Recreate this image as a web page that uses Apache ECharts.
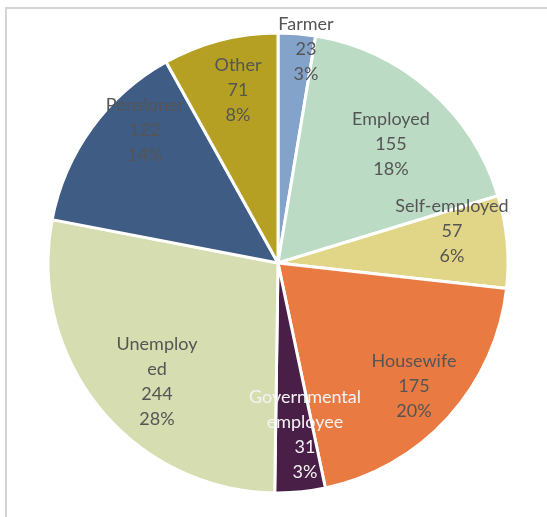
<!DOCTYPE html>
<html>
<head>
<meta charset="utf-8">
<script src="https://cdn.jsdelivr.net/npm/echarts@6/dist/echarts.min.js"></script>
<style>
html, body { margin: 0; padding: 0; background: #fff; }
#chart { width: 547px; height: 517px; }
</style>
</head>
<body>
<div id="chart"></div>
<script>
var categories = ['Farmer', 'Employed', 'Self-employed', 'Housewife', 'Governmental\nemployee', 'Unemploy\ned', 'Pensioner', 'Other'];
var counts = [23, 155, 57, 175, 31, 244, 122, 71];
var percentLabels = ['3%', '18%', '6%', '20%', '3%', '28%', '14%', '8%'];

var sliceColors = ['#84a3cb', '#bbdbc5', '#e1d687', '#e97a41', '#4a1f47', '#d6ddb0', '#3e5c84', '#b5a024'];
var labelColors = ['#555', '#555', '#555', '#555', '#f4f4f4', '#555', '#555', '#555'];
// label block centres, Excel style hand-placed labels
var labelPos = [[306, 49], [391, 144], [452, 231], [414, 386], [305, 435], [157, 382], [145, 130], [238, 90]];

var chart = echarts.init(document.getElementById('chart'));

var pieData = [];
for (var i = 0; i < categories.length; i++) {
	pieData.push({
		name: categories[i],
		value: counts[i],
		itemStyle: { color: sliceColors[i] },
		label: { color: labelColors[i] }
	});
}

var option = {
	animation: false,
	graphic: [{
		type: 'rect',
		shape: { x: 6, y: 8, width: 600, height: 600 },
		style: { fill: 'none', stroke: '#d4d4d4', lineWidth: 2 },
		silent: true
	}],
	series: [{
		type: 'pie',
		center: [278, 263],
		radius: [0, 230],
		startAngle: 90,
		clockwise: true,
		data: pieData,
		itemStyle: {
			borderColor: '#fff',
			borderWidth: 3
		},
		label: {
			show: true,
			position: 'inside',
			fontFamily: 'Lato',
			fontSize: 18,
			lineHeight: 25,
			align: 'center',
			formatter: function (p) {
				return p.name + '\n' + p.value + '\n' + percentLabels[p.dataIndex];
			}
		},
		labelLine: { show: false },
		labelLayout: function (p) {
			var pos = labelPos[p.dataIndex];
			return { x: pos[0], y: pos[1], align: 'center', verticalAlign: 'middle' };
		},
		emphasis: { disabled: true }
	}]
};
chart.setOption(option);
</script>
</body>
</html>
